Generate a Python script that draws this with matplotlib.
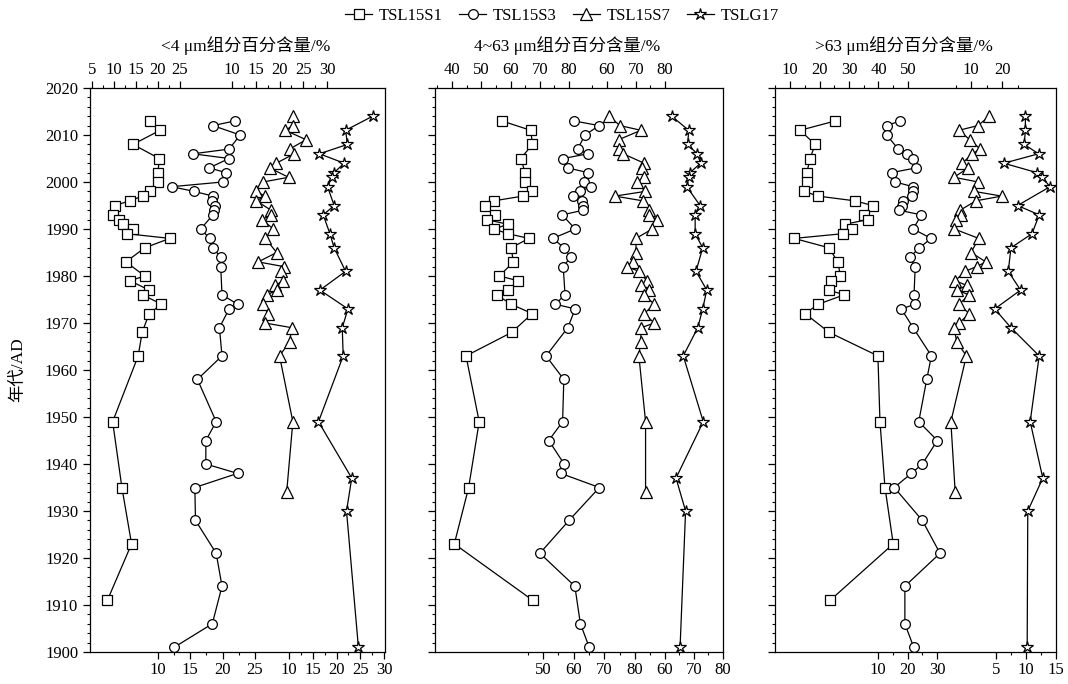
import matplotlib
matplotlib.use("Agg")
import matplotlib.pyplot as plt
from matplotlib.ticker import FixedLocator, MultipleLocator

plt.rcParams['font.family'] = ['Liberation Serif', 'Noto Sans CJK SC']

# ---- data ----
years_s1 = [2013, 2011, 2008, 2005, 2002, 2000, 1998, 1997, 1996, 1995, 1993, 1992, 1991, 1990, 1989,
            1988, 1986, 1983, 1980, 1979, 1977, 1976, 1974, 1972, 1968, 1963, 1949, 1935, 1923, 1911]
clay_s1 = [18.2, 20.5, 14.3, 20.3, 20.0, 20.1, 18.3, 16.5, 13.6, 10.2, 9.8, 11.2, 12.1, 14.4, 12.9,
           22.7, 17.0, 12.7, 17.0, 13.6, 18.0, 16.5, 20.8, 18.0, 16.4, 15.5, 9.7, 11.8, 14.0, 8.5]
silt_s1 = [57.0, 66.9, 67.5, 63.5, 65.0, 65.0, 67.2, 64.2, 54.4, 51.4, 54.6, 51.9, 59.1, 54.4, 59.1,
           66.3, 60.2, 61.0, 56.2, 62.5, 59.2, 55.3, 60.2, 67.4, 60.4, 44.8, 49.3, 45.7, 40.8, 67.6]
sand_s1 = [25.4, 13.4, 18.5, 16.8, 15.7, 15.7, 14.8, 19.5, 31.9, 38.0, 35.2, 36.4, 28.5, 31.0, 27.9,
           11.4, 23.2, 26.2, 27.1, 24.0, 23.1, 28.4, 19.6, 15.1, 23.3, 39.8, 40.5, 42.2, 45.0, 23.6]

years_s3 = [2013, 2012, 2010, 2007, 2006, 2005, 2003, 2002, 2000, 1999, 1998, 1997, 1996, 1995, 1994,
            1993, 1990, 1988, 1986, 1984, 1982, 1976, 1974, 1973, 1969, 1963, 1958, 1949, 1945, 1940,
            1938, 1935, 1928, 1921, 1914, 1906, 1901]
clay_s3 = [21.9, 18.5, 22.7, 21.0, 15.4, 21.0, 17.9, 20.5, 20.0, 12.1, 15.6, 18.5, 18.3, 18.8, 18.7,
           18.5, 16.6, 18.0, 18.5, 19.7, 19.7, 19.9, 22.3, 21.0, 19.5, 19.9, 16.1, 19.0, 17.4, 17.4,
           22.3, 15.7, 15.8, 19.0, 19.9, 18.4, 12.5]
silt_s3 = [60.1, 68.3, 63.7, 61.3, 64.6, 56.6, 58.1, 64.6, 63.5, 65.6, 62.1, 59.7, 62.7, 62.9, 63.1,
           56.3, 60.5, 53.2, 56.9, 59.0, 56.6, 57.2, 54.0, 60.5, 58.1, 51.0, 56.8, 56.4, 51.9, 56.9,
           55.8, 68.4, 58.5, 49.0, 60.4, 62.2, 65.1]
sand_s3 = [17.5, 12.9, 12.9, 16.9, 19.7, 21.8, 22.9, 14.6, 15.9, 21.8, 21.9, 21.5, 18.6, 18.0, 17.1,
           24.7, 21.9, 28.0, 24.0, 20.8, 22.6, 22.2, 22.6, 17.9, 21.9, 28.1, 26.5, 23.8, 30.1, 25.0,
           21.3, 15.5, 25.0, 31.0, 19.1, 19.1, 22.1]

years_s7 = [2014, 2012, 2011, 2009, 2007, 2006, 2004, 2003, 2001, 2000, 1998, 1997, 1996, 1994, 1993,
            1992, 1990, 1988, 1985, 1983, 1982, 1981, 1979, 1978, 1977, 1976, 1974, 1972, 1970, 1969,
            1966, 1963, 1949, 1934]
clay_s7 = [22.8, 22.8, 21.2, 25.6, 22.1, 23.1, 19.3, 17.9, 21.9, 16.5, 15.0, 17.0, 15.1, 18.2, 18.2,
           16.3, 18.7, 17.0, 19.4, 15.5, 20.9, 20.3, 20.8, 19.1, 19.4, 17.4, 16.6, 17.5, 16.9, 22.6,
           22.1, 20.0, 22.8, 21.5]
silt_s7 = [60.7, 64.5, 71.7, 64.0, 64.0, 65.6, 72.8, 72.2, 72.8, 70.2, 73.2, 62.7, 72.3, 74.4, 74.5,
           77.3, 75.6, 70.0, 70.0, 68.9, 66.8, 71.0, 73.7, 71.7, 74.6, 72.8, 76.3, 72.8, 76.3, 71.8,
           71.6, 71.0, 73.3, 73.3]
sand_s7 = [15.9, 12.2, 6.1, 9.6, 13.0, 10.4, 7.2, 9.1, 4.5, 12.4, 11.0, 19.9, 11.6, 6.5, 6.8,
           5.2, 4.6, 12.5, 10.0, 14.8, 11.8, 8.1, 4.9, 8.6, 5.4, 9.3, 6.2, 9.4, 6.2, 4.5,
           5.4, 8.5, 3.5, 4.9]

years_g17 = [2014, 2011, 2008, 2006, 2004, 2002, 2001, 1999, 1995, 1993, 1989, 1986, 1981, 1977, 1973,
             1969, 1963, 1949, 1937, 1930, 1901]
clay_g17 = [27.6, 21.9, 22.3, 16.4, 21.6, 19.5, 19.0, 18.1, 19.5, 17.2, 18.6, 19.5, 21.9, 16.5, 22.4,
            21.2, 21.4, 16.2, 23.2, 22.1, 24.6]
silt_g17 = [62.3, 68.2, 67.8, 71.1, 72.3, 68.6, 68.2, 67.5, 72.1, 70.4, 70.4, 73.0, 70.7, 74.4, 73.0,
            71.3, 66.3, 73.2, 63.8, 67.1, 65.2]
sand_g17 = [9.9, 9.9, 9.7, 12.1, 6.3, 11.8, 12.7, 14.0, 8.6, 12.2, 11.0, 7.5, 7.05, 9.1, 4.8,
            7.5, 12.2, 10.7, 12.8, 10.3, 10.2]

cores = ['TSL15S1', 'TSL15S3', 'TSL15S7', 'TSLG17']
markers = ['s', 'o', '^', '*']
msizes = [6.5, 7, 8, 9]
titles = ['<4 μm组分百分含量/%', '4~63 μm组分百分含量/%', '>63 μm组分百分含量/%']

panel_years = [years_s1, years_s3, years_s7, years_g17]
panel_vals = [
    [clay_s1, clay_s3, clay_s7, clay_g17],
    [silt_s1, silt_s3, silt_s7, silt_g17],
    [sand_s1, sand_s3, sand_s7, sand_g17],
]

# axis layout: x-limits so each core sits in its own strip, tick side, major/minor ticks
limits = [
    [(4.55, 71.6), (-0.51, 45.1), (-19.9, 42.2), (-31.9, 30.2)],
    [(34.2, 132.6), (14.8, 108.7), (0.69, 100.0), (-19.3, 80.0)],
    [(4.9, 100.2), (-24.9, 70.3), (-53.2, 37.4), (-31.8, 15.0)],
]
sides = ['top', 'bottom', 'top', 'bottom']
majors = [
    [[5, 10, 15, 20, 25], [10, 15, 20, 25], [10, 15, 20, 25, 30], [10, 15, 20, 25, 30]],
    [[40, 50, 60, 70, 80], [50, 60, 70, 80], [60, 70, 80], [60, 70, 80]],
    [[10, 20, 30, 40, 50], [10, 20, 30], [10, 20], [5, 10, 15]],
]
minors = [
    [[7.5, 12.5, 17.5, 22.5], [12.5, 17.5, 22.5], [12.5, 17.5, 22.5, 27.5], [12.5, 17.5, 22.5, 27.5]],
    [[35, 45, 55, 65, 75], [45, 55, 65, 75], [55, 65, 75], [55, 65, 75]],
    [[5, 15, 25, 35, 45], [15, 25], [5, 15, 25], [7.5, 12.5]],
]

fig = plt.figure(figsize=(10.68, 6.84), dpi=100)
W, H = 1068, 684
boxes = [(90, 385), (435, 723), (775, 1056)]
top_px, bot_px = 88, 652
title_x = [246, 567, 904]

handles = []
for p in range(3):
    l, r = boxes[p]
    ax = fig.add_axes([l / W, 1 - bot_px / H, (r - l) / W, (bot_px - top_px) / H])
    ax.set_ylim(1900, 2020)
    ax.set_xlim(0, 1)
    ax.set_xticks([])
    ax.yaxis.set_major_locator(MultipleLocator(10))
    ax.yaxis.set_minor_locator(MultipleLocator(2))
    ax.tick_params(axis='y', which='major', direction='out', length=5, width=0.9, labelsize=12)
    ax.tick_params(axis='y', which='minor', direction='out', length=2.5, width=0.8)
    if p > 0:
        ax.tick_params(axis='y', labelleft=False)
    for sp in ax.spines.values():
        sp.set_linewidth(0.9)

    for k in range(4):
        t = ax.twiny()
        t.set_xlim(*limits[p][k])
        t.set_ylim(1900, 2020)
        ln, = t.plot(panel_vals[p][k], panel_years[k], color='black', lw=0.9,
                     marker=markers[k], ms=msizes[k], mfc='white', mec='black', mew=0.9,
                     label=cores[k])
        if p == 0:
            handles.append(ln)
        for sp in t.spines.values():
            sp.set_visible(False)
        if sides[k] == 'top':
            t.xaxis.tick_top()
        else:
            t.xaxis.tick_bottom()
        t.xaxis.set_major_locator(FixedLocator(majors[p][k]))
        t.xaxis.set_minor_locator(FixedLocator(minors[p][k]))
        t.tick_params(axis='x', which='major', direction='out', length=5, width=0.9,
                      labelsize=12, pad=2)
        t.tick_params(axis='x', which='minor', direction='out', length=2.5, width=0.8)

    fig.text(title_x[p] / W, 1 - 46 / H, titles[p], ha='center', va='center', fontsize=12.5)

fig.text(18 / W, 1 - 370 / H, '年代/AD', rotation=90, ha='center', va='center', fontsize=12.5)

fig.legend(handles, cores, loc='center', bbox_to_anchor=(562 / W, 1 - 16 / H), ncol=4,
           frameon=False, fontsize=12, handlelength=1.6, handletextpad=0.4,
           columnspacing=1.0, borderpad=0.2)

fig.savefig('out.png', dpi=100)
